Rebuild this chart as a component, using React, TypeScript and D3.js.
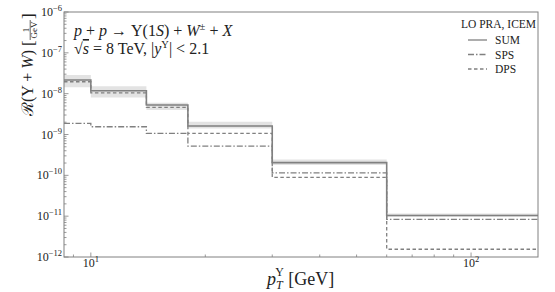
import * as d3 from "d3";

// bin edges in GeV and values per bin (1/GeV)
const binEdges = [8.5, 10, 14, 18, 30, 60, 150];
const sumValues = [2.16e-8, 1.18e-8, 5.3e-9, 1.61e-9, 2.05e-10, 1.04e-11];
const spsValues = [1.87e-9, 1.55e-9, 1.06e-9, 5.2e-10, 1.15e-10, 8.3e-12];
const dpsValues = [1.96e-8, 1.05e-8, 4.6e-9, 1.06e-9, 8.9e-11, 1.55e-12];
const bandHigh = [2.86e-8, 1.53e-8, 6.0e-9, 2.05e-9, 2.45e-10, 1.16e-11];
const bandLow = [1.43e-8, 8.1e-9, 3.96e-9, 1.41e-9, 1.78e-10, 9.7e-12];

const yDecades = [-12, -11, -10, -9, -8, -7, -6];
const xMajor = [10, 100];
const xMinor = [9, 20, 30, 40, 50, 60, 70, 80, 90];

const legendItems = [
  { label: "SUM", dash: "" },
  { label: "SPS", dash: "6,2,1.5,2" },
  { label: "DPS", dash: "3.5,2.5" },
];

const W = 555;
const H = 292;
const margin = { top: 12, right: 17, bottom: 35, left: 64 };
const FONT = "'Liberation Serif', 'DejaVu Serif', serif";
const LINE = "#808080";

export default function App() {
  const x = d3
    .scaleLog()
    .domain([binEdges[0], binEdges[binEdges.length - 1]])
    .range([margin.left, W - margin.right]);
  const y = d3
    .scaleLog()
    .domain([1e-12, 1e-6])
    .range([H - margin.bottom, margin.top]);

  // step data: one point per edge, last value repeated
  const steps = (vals: number[]) =>
    binEdges.map((e, i) => [e, vals[Math.min(i, vals.length - 1)]] as [number, number]);

  const line = d3
    .line<[number, number]>()
    .x((d) => x(d[0]))
    .y((d) => y(d[1]))
    .curve(d3.curveStepAfter);

  const bandData = binEdges.map((e, i) => {
    const k = Math.min(i, bandLow.length - 1);
    return { e, lo: bandLow[k], hi: bandHigh[k] };
  });
  const area = d3
    .area<{ e: number; lo: number; hi: number }>()
    .x((d) => x(d.e))
    .y0((d) => y(d.lo))
    .y1((d) => y(d.hi))
    .curve(d3.curveStepAfter);

  const yMinor: number[] = [];
  yDecades.slice(0, -1).forEach((p) => {
    for (let m = 2; m <= 9; m++) yMinor.push(m * Math.pow(10, p));
  });

  const [x0, x1] = x.range();
  const [yb, yt] = y.range();

  return (
    <svg
      width={W}
      height={H}
      style={{ position: "absolute", left: 0, top: 0, background: "#fff" }}
      fontFamily={FONT}
    >
      <path d={area(bandData) ?? ""} fill="#e3e3e3" />
      <path d={line(steps(dpsValues)) ?? ""} fill="none" stroke={LINE} strokeWidth={1.3} strokeDasharray="3.5,2.5" />
      <path d={line(steps(spsValues)) ?? ""} fill="none" stroke={LINE} strokeWidth={1.3} strokeDasharray="6,2,1.5,2" />
      <path d={line(steps(sumValues)) ?? ""} fill="none" stroke={LINE} strokeWidth={1.6} />

      {/* frame */}
      <rect x={x0} y={yt} width={x1 - x0} height={yb - yt} fill="none" stroke={LINE} strokeWidth={1} />

      {/* y ticks */}
      {yMinor.map((v, i) => (
        <line key={"ym" + i} x1={x0} x2={x0 + 2.5} y1={y(v)} y2={y(v)} stroke={LINE} strokeWidth={0.8} />
      ))}
      {yDecades.map((p) => (
        <g key={"yd" + p}>
          <line x1={x0} x2={x0 + 4.5} y1={y(Math.pow(10, p))} y2={y(Math.pow(10, p))} stroke={LINE} strokeWidth={0.8} />
          <text x={x0 - 2} y={y(Math.pow(10, p)) + 4} textAnchor="end" fontSize={12} fill="#222">
            10<tspan dy={-5} fontSize={8.5}>{"\u2212" + Math.abs(p)}</tspan>
          </text>
        </g>
      ))}

      {/* x ticks */}
      {xMinor.map((v) => (
        <line key={"xm" + v} x1={x(v)} x2={x(v)} y1={yb} y2={yb - 2.5} stroke={LINE} strokeWidth={0.8} />
      ))}
      {xMajor.map((v) => (
        <g key={"xM" + v}>
          <line x1={x(v)} x2={x(v)} y1={yb} y2={yb - 4.5} stroke={LINE} strokeWidth={0.8} />
          <text x={x(v)} y={yb + 10} textAnchor="middle" fontSize={12} fill="#222">
            10<tspan dy={-5} fontSize={8.5}>{Math.round(Math.log10(v))}</tspan>
          </text>
        </g>
      ))}

      {/* x label */}
      <text x={267} y={285} fontSize={18} fill="#222">
        <tspan fontStyle="italic">p</tspan>
        <tspan dy={4} fontSize={12} fontStyle="italic">T</tspan>
        <tspan dx={-7.5} dy={-13} fontSize={12}>Υ</tspan>
        <tspan dy={9}> [GeV]</tspan>
      </text>

      {/* y label */}
      <g transform="translate(33,116) rotate(-90)" fill="#222">
        <text x={0} y={0} fontSize={16}>
          ℛ(Υ + <tspan fontStyle="italic">W</tspan>)
        </text>
        <text x={70} y={1} fontSize={17}>[</text>
        <text x={86} y={-4.5} fontSize={9} textAnchor="middle">1</text>
        <line x1={76} x2={96} y1={-2.8} y2={-2.8} stroke="#222" strokeWidth={0.7} />
        <text x={86} y={4} fontSize={9} textAnchor="middle">GeV</text>
        <text x={97} y={1} fontSize={17}>]</text>
      </g>

      {/* annotation */}
      <text x={74} y={36} fontSize={16} fill="#222">
        <tspan fontStyle="italic">p</tspan> + <tspan fontStyle="italic">p</tspan> → Υ(1<tspan fontStyle="italic">S</tspan>) + <tspan fontStyle="italic">W</tspan>
        <tspan dy={-6} fontSize={10.5}>±</tspan>
        <tspan dy={6}> + </tspan>
        <tspan fontStyle="italic">X</tspan>
      </text>
      <text x={74} y={54} fontSize={16} fill="#222">
        √<tspan fontStyle="italic" textDecoration="overline">s</tspan> = 8 TeV, |<tspan fontStyle="italic">y</tspan>
        <tspan dy={-6} fontSize={10.5}>Υ</tspan>
        <tspan dy={6}>| &lt; 2.1</tspan>
      </text>

      {/* legend */}
      <text x={461} y={28} fontSize={11.5} fill="#222">LO PRA, ICEM</text>
      {legendItems.map((it, i) => (
        <g key={it.label} transform={`translate(0,${40 + i * 14.5})`}>
          <line x1={468} x2={487} y1={0} y2={0} stroke={LINE} strokeWidth={1.3} strokeDasharray={it.dash} />
          <text x={495} y={4} fontSize={11.5} fill="#222">{it.label}</text>
        </g>
      ))}
    </svg>
  );
}
